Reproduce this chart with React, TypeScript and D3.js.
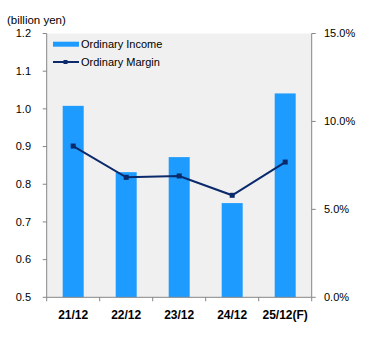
import React from "react";
import * as d3 from "d3";

const categories = ["21/12", "22/12", "23/12", "24/12", "25/12(F)"];
const ordinaryIncome = [1.008, 0.832, 0.872, 0.75, 1.041];
const ordinaryMargin = [8.6, 6.82, 6.9, 5.8, 7.69];
const leftTicks = [0.5, 0.6, 0.7, 0.8, 0.9, 1.0, 1.1, 1.2];
const rightTicks = [0, 5, 10, 15];

export default function App() {
  const W = 365, H = 337;
  const x0 = 46.7, x1 = 311.7, yTop = 33.5, yBot = 297.3;
  const font = "'Liberation Sans', Arial, sans-serif";
  const xc = d3.scaleBand<string>().domain(categories).range([x0, x1]);
  const yL = d3.scaleLinear().domain([0.5, 1.2]).range([yBot, yTop]);
  const yR = d3.scaleLinear().domain([0, 15]).range([yBot, yTop]);
  const center = (c: string) => (xc(c) as number) + xc.bandwidth() / 2;
  const line = d3.line<number>()
    .x((_, i) => center(categories[i]))
    .y((d) => yR(d));
  const axisColor = "#868686";
  return (
    <svg width={W} height={H} style={{ position: "absolute", left: 0, top: 0 }}>
      <rect x={0} y={0} width={W} height={H} fill="#fff" />
      <rect x={x0} y={yTop} width={x1 - x0} height={yBot - yTop} fill="#f0f0f0" />
      {categories.map((c, i) => {
        const bw = 21;
        const cx = center(c);
        return (
          <rect key={c} x={cx - bw / 2} y={yL(ordinaryIncome[i])} width={bw} height={yBot - yL(ordinaryIncome[i])} fill="#1e9bff" />
        );
      })}
      <path d={line(ordinaryMargin) || ""} fill="none" stroke="#0b2a6b" strokeWidth={2} />
      {ordinaryMargin.map((v, i) => {
        const cx = center(categories[i]);
        return <rect key={i} x={cx - 2.5} y={yR(v) - 2.5} width={5} height={5} fill="#0b2a6b" />;
      })}
      {/* left axis */}
      <line x1={x0} x2={x0} y1={yTop} y2={yBot} stroke={axisColor} />
      {leftTicks.map((t) => (
        <g key={t}>
          <line x1={x0 - 4} x2={x0} y1={yL(t)} y2={yL(t)} stroke={axisColor} />
          <text x={31} y={yL(t)} dy="0.35em" textAnchor="end" fontFamily={font} fontSize={11} fill="#000">{t.toFixed(1)}</text>
        </g>
      ))}
      {/* right axis */}
      <line x1={x1} x2={x1} y1={yTop} y2={yBot} stroke={axisColor} />
      {rightTicks.map((t) => (
        <g key={t}>
          <line x1={x1} x2={x1 + 4} y1={yR(t)} y2={yR(t)} stroke={axisColor} />
          <text x={324} y={yR(t)} dy="0.35em" textAnchor="start" fontFamily={font} fontSize={11} fill="#000">{t.toFixed(1)}%</text>
        </g>
      ))}
      {/* x axis */}
      <line x1={x0} x2={x1} y1={yBot} y2={yBot} stroke={axisColor} />
      {categories.map((c) => (
        <line key={"t" + c} x1={xc(c) as number} x2={xc(c) as number} y1={yBot} y2={yBot + 4} stroke={axisColor} />
      ))}
      <line x1={x1} x2={x1} y1={yBot} y2={yBot + 4} stroke={axisColor} />
      {categories.map((c) => (
        <text key={"l" + c} x={center(c)} y={315} dy="0.35em" textAnchor="middle" fontFamily={font} fontSize={12} fontWeight="bold" fill="#000">{c}</text>
      ))}
      <text x={7} y={20} dy="0.35em" fontFamily={font} fontSize={11.5} fill="#000">(billion yen)</text>
      {/* legend */}
      <rect x={53} y={41.7} width={26} height={5} fill="#1e9bff" />
      <text x={81} y={44.3} dy="0.35em" fontFamily={font} fontSize={11} fill="#000">Ordinary Income</text>
      <line x1={53} x2={79} y1={62} y2={62} stroke="#0b2a6b" strokeWidth={2} />
      <rect x={63.5} y={60} width={4} height={4} fill="#0b2a6b" />
      <text x={81} y={62} dy="0.35em" fontFamily={font} fontSize={11} fill="#000">Ordinary Margin</text>
    </svg>
  );
}
